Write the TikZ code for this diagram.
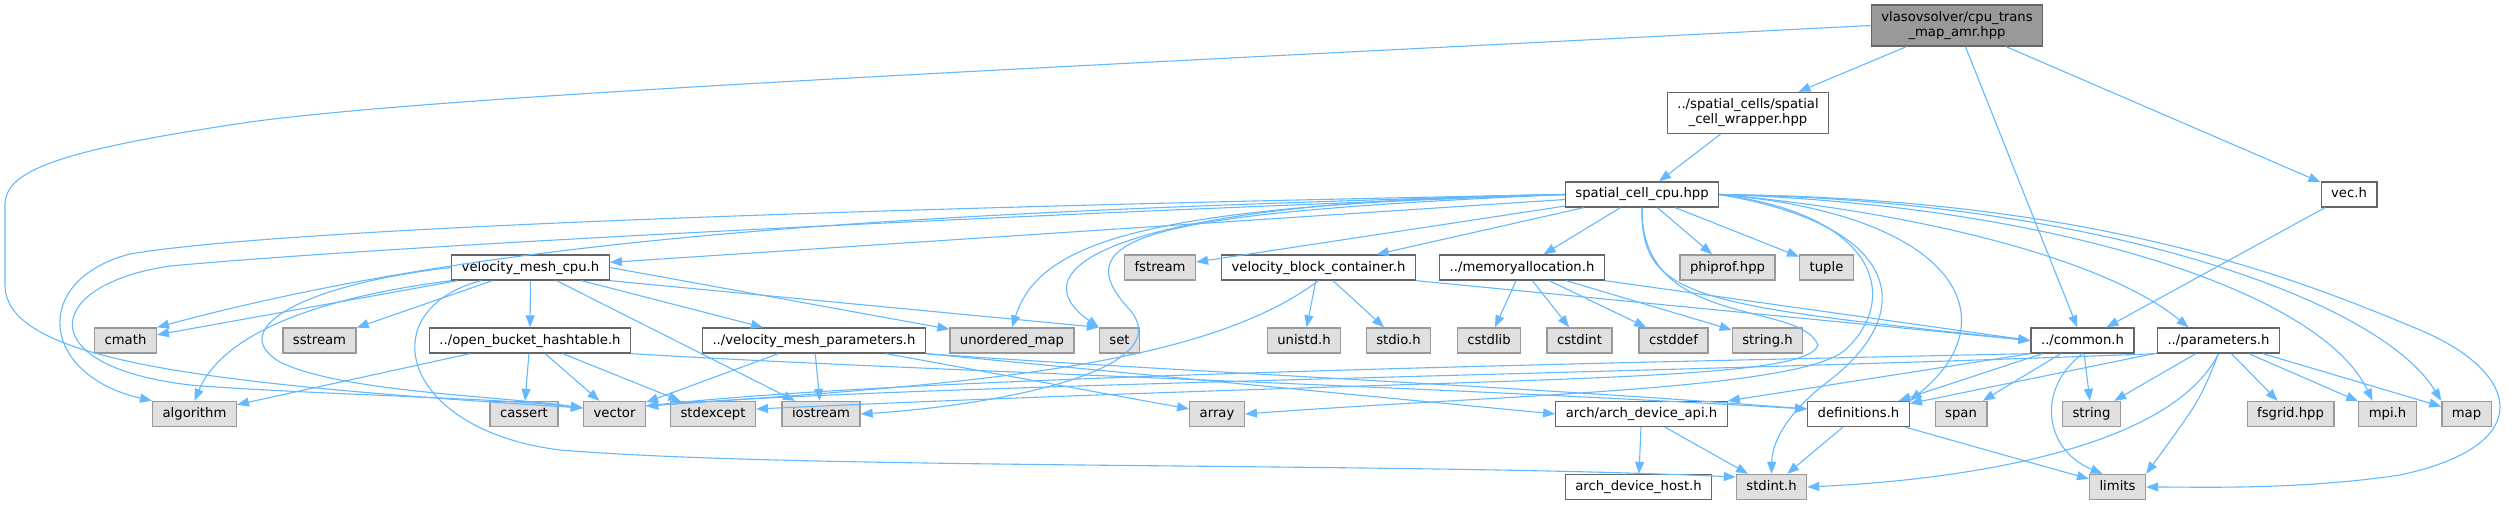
\documentclass[tikz,border=0pt]{standalone}
\usepackage{fontspec}
\setmainfont{DejaVu Sans}
\usetikzlibrary{arrows.meta}
\definecolor{edgeblue}{HTML}{63B8FF}
\definecolor{boxline}{HTML}{666666}
\definecolor{sysline}{HTML}{999999}
\definecolor{sysfill}{HTML}{E0E0E0}
\definecolor{topfill}{HTML}{999999}

\begin{document}
\begin{tikzpicture}[x=1pt,y=-1pt,font=\fontsize{13.2}{15}\selectfont,
    every node/.style={draw=boxline,fill=white,line width=1.3pt,rectangle,
    inner xsep=10pt,inner ysep=0pt,minimum height=25pt,text height=10pt,
    text depth=3pt},
    sys/.style={draw=sysline,fill=sysfill},
    two/.style={align=center,text height=,text depth=,minimum height=41pt},
    dep/.style={draw=edgeblue,line width=1.1pt,
    -{Triangle[length=12pt,width=9pt]}}]
  \useasboundingbox (0,0) rectangle (2514,505);

  \node[two,fill=topfill] (tmap) at (1957,25.5) {vlasovsolver/cpu\_trans\\\_map\_amr.hpp};
  \node[two] (wrap) at (1748,113) {../spatial\_cells/spatial\\\_cell\_wrapper.hpp};
  \node (scell) at (1642,194.5) {spatial\_cell\_cpu.hpp};
  \node (vech) at (2349,194.5) {vec.h};

  \node (vmcpu) at (530.5,267.5) {velocity\_mesh\_cpu.h};
  \node[sys] (fstream) at (1160,267.5) {fstream};
  \node (vbc) at (1318.5,267.5) {velocity\_block\_container.h};
  \node (memalloc) at (1522,267.5) {../memoryallocation.h};
  \node[sys] (phiprof) at (1727.5,267.5) {phiprof.hpp};
  \node[sys] (tuple) at (1826.5,267.5) {tuple};

  \node[sys] (cmath) at (125.5,340.5) {cmath};
  \node[sys] (sstream) at (319.5,340.5) {sstream};
  \node (obh) at (530,340.5) {../open\_bucket\_hashtable.h};
  \node (vmp) at (814,340.5) {../velocity\_mesh\_parameters.h};
  \node[sys] (umap) at (1012,340.5) {unordered\_map};
  \node[sys] (set) at (1119.5,340.5) {set};
  \node[sys] (unistd) at (1304,340.5) {unistd.h};
  \node[sys] (stdio) at (1398.5,340.5) {stdio.h};
  \node[sys] (cstdlib) at (1489,340.5) {cstdlib};
  \node[sys] (cstdint) at (1579.5,340.5) {cstdint};
  \node[sys] (cstddef) at (1673.5,340.5) {cstddef};
  \node[sys] (stringh) at (1767.5,340.5) {string.h};
  \node (common) at (2082.5,340.5) {../common.h};
  \node (param) at (2218.5,340.5) {../parameters.h};

  \node[sys] (algorithm) at (194.5,414) {algorithm};
  \node[sys] (cassert) at (524,414) {cassert};
  \node[sys] (vector) at (614.5,414) {vector};
  \node[sys] (stdexcept) at (713,414) {stdexcept};
  \node[sys] (iostream) at (821,414) {iostream};
  \node[sys] (array) at (1217,414) {array};
  \node (ada) at (1641.5,414) {arch/arch\_device\_api.h};
  \node (defs) at (1858.5,414) {definitions.h};
  \node[sys] (span) at (1961,414) {span};
  \node[sys] (string) at (2091.5,414) {string};
  \node[sys] (fsgrid) at (2290.5,414) {fsgrid.hpp};
  \node[sys] (mpi) at (2387.5,414) {mpi.h};
  \node[sys] (map) at (2466.5,414) {map};

  \node (adh) at (1638.5,487) {arch\_device\_host.h};
  \node[sys] (stdint) at (1771.5,487) {stdint.h};
  \node[sys] (limits) at (2117.5,487) {limits};

  % top file
  \path (tmap) edge[dep] (wrap) edge[dep] (common) edge[dep] (vech);
  \draw[dep] (tmap.west) .. controls (1000,70) and (450,95) .. (250,122)
    .. controls (60,150) and (5,170) .. (5,205) -- (5,285)
    .. controls (5,360) and (200,384) .. ([yshift=6pt]vector.west);
  \path (wrap) edge[dep] (scell);
  \path (vech) edge[dep] (common);

  % spatial_cell_cpu.hpp
  \path (scell) edge[dep] (vmcpu) edge[dep] (fstream) edge[dep] (vbc)
    edge[dep] (memalloc) edge[dep] (phiprof) edge[dep] (tuple);
  \draw[dep] (scell.west) .. controls (900,212) and (500,235) .. (cmath.north east);
  \draw[dep] (scell.west) .. controls (1000,205) and (300,225) .. (130,254)
    .. controls (30,280) and (40,375) .. (algorithm.north west);
  \draw[dep] (scell.west) .. controls (1000,215) and (400,245) .. (170,266)
    .. controls (40,285) and (30,370) .. (200,386)
    .. controls (350,396) and (500,398) .. ([yshift=6pt]vector.west);
  \draw[dep] (scell.west) .. controls (1150,205) and (1040,240) .. (umap.north);
  \draw[dep] (scell.west) .. controls (1130,200) and (1010,265) .. (set.north west);
  \draw[dep] (scell.west) .. controls (1150,213) and (1060,235) .. (1130,310)
    .. controls (1180,370) and (1000,405) .. (iostream.east);
  \draw[dep] (scell.south) .. controls (1640,300) and (1700,305) .. (common.west);
  \draw[dep] (scell.south) .. controls (1640,330) and (1800,300) .. (1818,345)
    .. controls (1805,385) and (1500,375) .. ([yshift=5pt]stdexcept.east);
  \draw[dep] (scell.east) .. controls (1880,215) and (1900,300) .. (1845,350)
    .. controls (1800,390) and (1500,395) .. (array.east);
  \draw[dep] (scell.east) .. controls (1900,225) and (1920,310) .. (1830,380)
    .. controls (1790,410) and (1772,440) .. (stdint.north);
  \draw[dep] (scell.east) .. controls (1960,215) and (2010,320) .. (defs.north east);
  \draw[dep] (scell.east) .. controls (1900,210) and (2100,255) .. ([xshift=-30pt]param.north);
  \draw[dep] (scell.east) .. controls (2050,205) and (2320,290) .. ([xshift=-15pt]mpi.north);
  \draw[dep] (scell.east) .. controls (2100,200) and (2380,300) .. (map.north west);
  \draw[dep] (scell.east) .. controls (2100,198) and (2300,280) .. (2420,330)
    .. controls (2520,372) and (2540,445) .. (2400,475)
    .. controls (2300,490) and (2200,487) .. (limits.east);

  % velocity_mesh_cpu.h
  \path (vmcpu) edge[dep] (cmath) edge[dep] (sstream) edge[dep] (obh)
    edge[dep] (vmp) edge[dep] (iostream);
  \draw[dep] (vmcpu.east) -- (umap);
  \draw[dep] (vmcpu.south east) -- (set.north west);
  \draw[dep] (vmcpu.south west) .. controls (300,300) and (220,340) .. (algorithm.north);
  \draw[dep] (vmcpu.west) .. controls (300,285) and (225,330) .. (280,362)
    .. controls (340,392) and (500,396) .. ([yshift=6pt]vector.west);
  \draw[dep] ([xshift=30pt]vmcpu.south west) .. controls (370,310) and (400,430) .. (560,450)
    .. controls (800,470) and (1400,462) .. ([yshift=10pt]stdint.west);

  % headers below
  \path (obh) edge[dep] (algorithm) edge[dep] (cassert) edge[dep] (vector)
    edge[dep] (stdexcept);
  \draw[dep] (obh.south east) .. controls (900,370) and (1400,385) .. ([yshift=5pt]defs.west);
  \path (vmp) edge[dep] (vector) edge[dep] (iostream) edge[dep] (array);
  \draw[dep] (vmp.south east) .. controls (1150,370) and (1500,385) .. ([yshift=5pt]defs.west);
  \draw[dep] (vmp.south east) -- (ada.west);

  \path (vbc) edge[dep] (unistd) edge[dep] (stdio);
  \draw[dep] (vbc.south) .. controls (1200,370) and (950,385) .. ([yshift=8pt]vector.east);
  \draw[dep] (vbc.south east) -- (common.west);
  \path (memalloc) edge[dep] (cstdlib) edge[dep] (cstdint) edge[dep] (cstddef)
    edge[dep] (stringh);
  \draw[dep] (memalloc.south east) -- (common.west);

  \path (common) edge[dep] (string) edge[dep] (span) edge[dep] (defs);
  \draw[dep] (common.south west) -- (ada.north east);
  \draw[dep] (common.south) .. controls (2035,390) and (2045,450) .. ([xshift=-15pt]limits.north);
  \draw[dep] (common.south west) .. controls (1500,365) and (900,378) .. ([yshift=8pt]vector.east);

  \path (param) edge[dep] (string) edge[dep] (fsgrid) edge[dep] (mpi)
    edge[dep] (map) edge[dep] (defs);
  \draw[dep] (param.south) .. controls (2200,400) .. (limits.north east);
  \draw[dep] (param.south) .. controls (2170,450) and (1960,480) .. (stdint.east);
  \draw[dep] (param.south west) .. controls (1600,375) and (900,385) .. ([yshift=8pt]vector.east);

  \path (defs) edge[dep] (stdint) edge[dep] (limits);
  \path (ada) edge[dep] (adh) edge[dep] (stdint);
\end{tikzpicture}
\end{document}
